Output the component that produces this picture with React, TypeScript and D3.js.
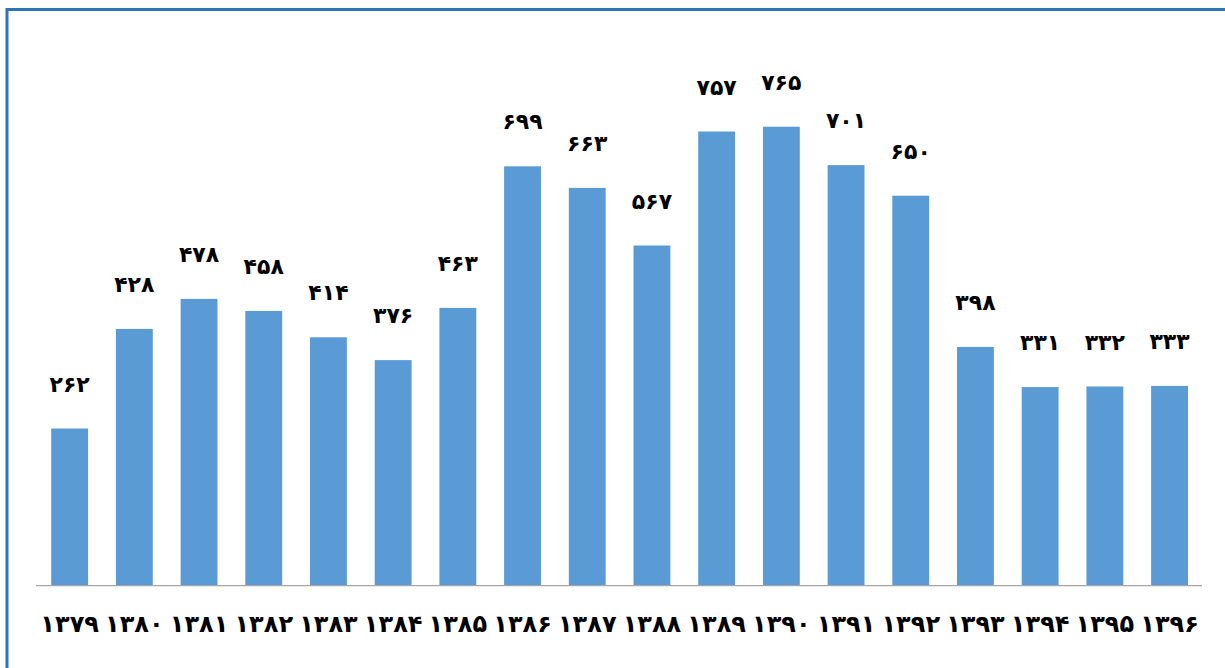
import React from "react";
import * as d3 from "d3";

const categories = ["۱۳۷۹","۱۳۸۰","۱۳۸۱","۱۳۸۲","۱۳۸۳","۱۳۸۴","۱۳۸۵","۱۳۸۶","۱۳۸۷","۱۳۸۸","۱۳۸۹","۱۳۹۰","۱۳۹۱","۱۳۹۲","۱۳۹۳","۱۳۹۴","۱۳۹۵","۱۳۹۶"];
const values = [262,428,478,458,414,376,463,699,663,567,757,765,701,650,398,331,332,333];
const valueLabels = ["۲۶۲","۴۲۸","۴۷۸","۴۵۸","۴۱۴","۳۷۶","۴۶۳","۶۹۹","۶۶۳","۵۶۷","۷۵۷","۷۶۵","۷۰۱","۶۵۰","۳۹۸","۳۳۱","۳۳۲","۳۳۳"];

const W = 1225;
const H = 668;

export default function App() {
  const x = d3.scaleBand<string>().domain(categories).range([37.3, 1201.9]).paddingInner(0.43).paddingOuter(0.215);
  const y = d3.scaleLinear().domain([0, 900]).range([585.7, 45.7]);
  const font = "'DejaVu Sans', sans-serif";
  return (
    <svg width={W} height={H} style={{ position: "fixed", left: 0, top: 0, background: "#fff" }}>
      <rect x={0} y={0} width={W} height={H} fill="#fff" />
      <path d={`M7,${H + 5} L7,9.5 L${W + 5},9.5`} fill="none" stroke="#2E75B6" strokeWidth={3} />
      {categories.map((c, i) => (
        <rect key={c} x={x(c)} y={y(values[i])} width={x.bandwidth()} height={y(0) - y(values[i])} fill="#5B9BD5" />
      ))}
      <line x1={36} x2={1202} y1={585.7} y2={585.7} stroke="#A6A6A6" strokeWidth={1.3} />
      {categories.map((c, i) => (
        <text key={"v" + c} x={(x(c) as number) + x.bandwidth() / 2} y={y(values[i]) - 37} textAnchor="middle"
          fontFamily={font} fontWeight="bold" fontSize={22} fill="#000" direction="ltr">{valueLabels[i]}</text>
      ))}
      {categories.map((c) => (
        <text key={"c" + c} x={(x(c) as number) + x.bandwidth() / 2} y={632} textAnchor="middle"
          fontFamily={font} fontWeight="bold" fontSize={24} fill="#000" direction="ltr">{c}</text>
      ))}
    </svg>
  );
}
